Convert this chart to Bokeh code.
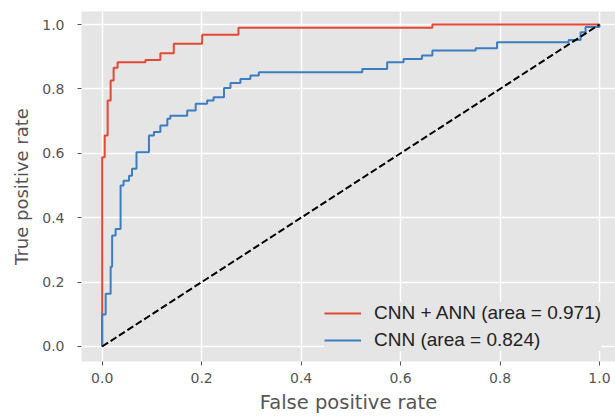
from bokeh.plotting import figure
from bokeh.models import Range1d, FixedTicker, Legend, LegendItem
from bokeh.embed import file_html
from bokeh.resources import INLINE

# ---- data (ROC step corners) ----
red_x = [0.0, 0.005, 0.011, 0.017, 0.023, 0.031, 0.087, 0.117, 0.144, 0.201, 0.274, 0.664, 1.0]
red_y = [0.588, 0.655, 0.764, 0.826, 0.866, 0.883, 0.890, 0.911, 0.940, 0.968, 0.990, 1.0, 1.0]

blue_x = [0.0, 0.007, 0.017, 0.020, 0.027, 0.037, 0.043, 0.054, 0.060, 0.069, 0.094, 0.104,
          0.117, 0.131, 0.137, 0.171, 0.188, 0.211, 0.224, 0.245, 0.258, 0.278, 0.298, 0.315,
          0.523, 0.573, 0.606, 0.643, 0.664, 0.751, 0.794, 0.938, 0.962, 0.972, 1.0]
blue_y = [0.099, 0.164, 0.248, 0.345, 0.365, 0.500, 0.515, 0.530, 0.552, 0.603, 0.655, 0.666,
          0.686, 0.707, 0.717, 0.733, 0.754, 0.764, 0.774, 0.803, 0.818, 0.831, 0.842, 0.852,
          0.862, 0.883, 0.893, 0.904, 0.919, 0.926, 0.945, 0.952, 0.976, 0.992, 1.0]

diag_x = [0.0, 1.0]
diag_y = [0.0, 1.0]

labels = ["CNN + ANN (area = 0.971)", "CNN (area = 0.824)"]
ticks = [0.0, 0.2, 0.4, 0.6, 0.8, 1.0]
tick_labels = ["0.0", "0.2", "0.4", "0.6", "0.8", "1.0"]


def corners(xs, ys):
    px, py = [0.0], [0.0]
    prev = 0.0
    for x, y in zip(xs, ys):
        px += [x, x]
        py += [prev, y]
        prev = y
    return px, py


p = figure(width=615, height=418, output_backend="svg", toolbar_location=None,
           x_range=Range1d(-0.0416, 1.0322), y_range=Range1d(-0.0466, 1.0404),
           min_border_left=81, min_border_top=11, min_border_right=0, min_border_bottom=57)

p.background_fill_color = "#E5E5E5"
p.border_fill_color = "white"
p.outline_line_color = None

rx, ry = corners(red_x, red_y)
bx, by = corners(blue_x, blue_y)
r_red = p.line(rx, ry, line_color="#E24A33", line_width=2)
r_blue = p.line(bx, by, line_color="#3b7dc0", line_width=2)
p.line(diag_x, diag_y, line_color="black", line_width=2, line_dash="7 3")

for ax in (p.xaxis[0], p.yaxis[0]):
    ax.ticker = FixedTicker(ticks=ticks)
    ax.major_label_overrides = dict(zip(ticks, tick_labels))
    ax.axis_line_color = None
    ax.major_tick_line_color = "#555555"
    ax.major_tick_in = 0
    ax.major_tick_out = 4
    ax.minor_tick_line_color = None
    ax.major_label_text_font = "DejaVu Sans"
    ax.major_label_text_font_size = "14px"
    ax.major_label_text_color = "#555555"
    ax.axis_label_text_font = "DejaVu Sans"
    ax.axis_label_text_font_style = "normal"
    ax.axis_label_text_color = "#555555"

p.xaxis.axis_label = "False positive rate"
p.yaxis.axis_label = "True positive rate"
p.xaxis.axis_label_text_font_size = "19.5px"
p.yaxis.axis_label_text_font_size = "18px"
p.xaxis.major_label_standoff = 7
p.xaxis.axis_label_standoff = 5
p.yaxis.major_label_standoff = 13
p.yaxis.axis_label_standoff = 7

p.grid.grid_line_color = "white"
p.grid.grid_line_width = 1.5

legend = Legend(items=[LegendItem(label=labels[0], renderers=[r_red]),
                       LegendItem(label=labels[1], renderers=[r_blue])],
                location=(243, 10))
legend.background_fill_color = "#E5E5E5"
legend.background_fill_alpha = 1.0
legend.border_line_color = None
legend.label_text_font = "Liberation Sans"
legend.label_text_font_size = "19px"
legend.label_text_color = "#222222"
legend.glyph_width = 37
legend.glyph_height = 20
legend.label_height = 20
legend.label_standoff = 13
legend.padding = 8
legend.spacing = 5
legend.margin = 0
p.add_layout(legend, "center")

open("out.html", "w").write(file_html(p, INLINE))
